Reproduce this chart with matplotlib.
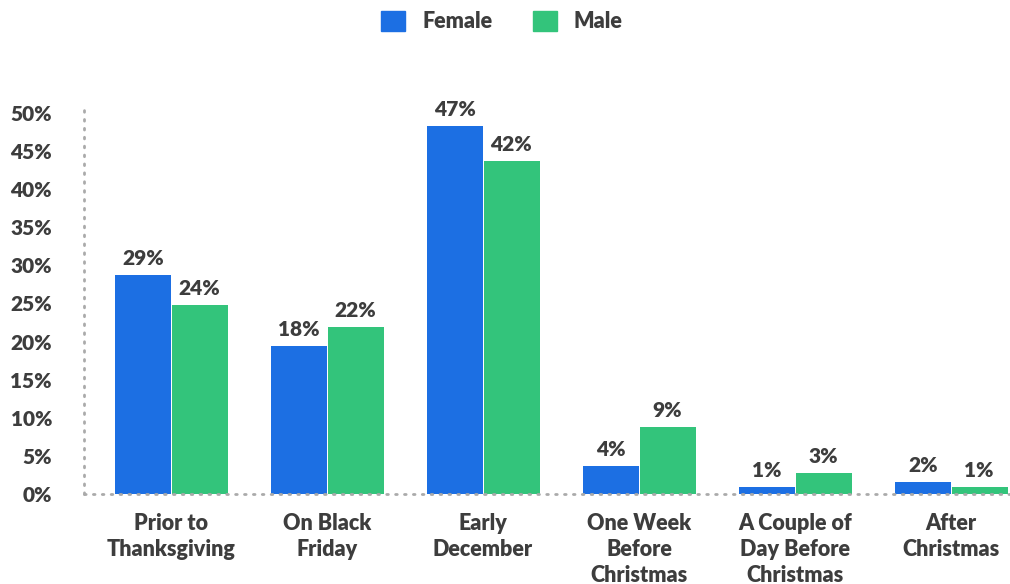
import matplotlib.pyplot as plt
import numpy as np
from matplotlib.patches import Patch

categories = ["Prior to\nThanksgiving", "On Black\nFriday", "Early\nDecember",
              "One Week\nBefore\nChristmas", "A Couple of\nDay Before\nChristmas", "After\nChristmas"]
female = [28.7, 19.4, 48.3, 3.7, 0.9, 1.6]
male = [24.8, 21.9, 43.7, 8.8, 2.8, 0.9]
female_labels = ["29%", "18%", "47%", "4%", "1%", "2%"]
male_labels = ["24%", "22%", "42%", "9%", "3%", "1%"]
yticks = [0, 5, 10, 15, 20, 25, 30, 35, 40, 45, 50]

blue = "#1c6fe3"
green = "#33c47b"
text_color = "#3d3d3d"
dot_color = "#aaaaaa"

plt.rcParams['font.family'] = ['Lato', 'DejaVu Sans']
W = "heavy"

fig = plt.figure(figsize=(10.1, 5.84), dpi=100)
ax = fig.add_axes([84 / 1010, 90 / 584, 926 / 1010, 391 / 584])

x = np.arange(len(categories))
w = 0.359
ax.bar(x - w / 2 - 0.003, female, width=w, color=blue, zorder=2)
ax.bar(x + w / 2 + 0.003, male, width=w, color=green, zorder=2)

for i in range(len(categories)):
    ax.annotate(female_labels[i], (x[i] - w / 2, female[i]), xytext=(0, 5), textcoords="offset points",
                ha="center", va="bottom", fontsize=15, fontweight=W, color=text_color)
    ax.annotate(male_labels[i], (x[i] + w / 2, male[i]), xytext=(0, 5), textcoords="offset points",
                ha="center", va="bottom", fontsize=15, fontweight=W, color=text_color)

ax.set_xlim(-0.558, 5.378)
ax.set_ylim(0, 51.3)
ax.set_yticks(yticks)
ax.set_yticklabels([f"{t}%" for t in yticks])
ax.set_xticks(x)
ax.set_xticklabels(categories, linespacing=1.31)
ax.tick_params(axis="y", length=0, pad=23, labelsize=15, labelcolor=text_color)
ax.tick_params(axis="x", length=0, pad=13.5, labelsize=15.5, labelcolor=text_color)
for lab in ax.get_xticklabels() + ax.get_yticklabels():
    lab.set_fontweight(W)

for s in ["top", "right"]:
    ax.spines[s].set_visible(False)
for s in ["left", "bottom"]:
    ax.spines[s].set_linestyle((0, (0.6, 2.6)))
    ax.spines[s].set_capstyle("round")
    ax.spines[s].set_color(dot_color)
    ax.spines[s].set_linewidth(2)
    ax.spines[s].set_zorder(3)

handles = [Patch(color=blue, label="Female"), Patch(color=green, label="Male")]
leg = fig.legend(handles=handles, loc="upper center", bbox_to_anchor=(0.497, 1.015), ncol=2,
                 frameon=False, handlelength=1.1, handleheight=1.1, handletextpad=0.8,
                 columnspacing=1.9, prop={"size": 15.5, "weight": W})
for t in leg.get_texts():
    t.set_color(text_color)

fig.savefig("out.png", dpi=100)
